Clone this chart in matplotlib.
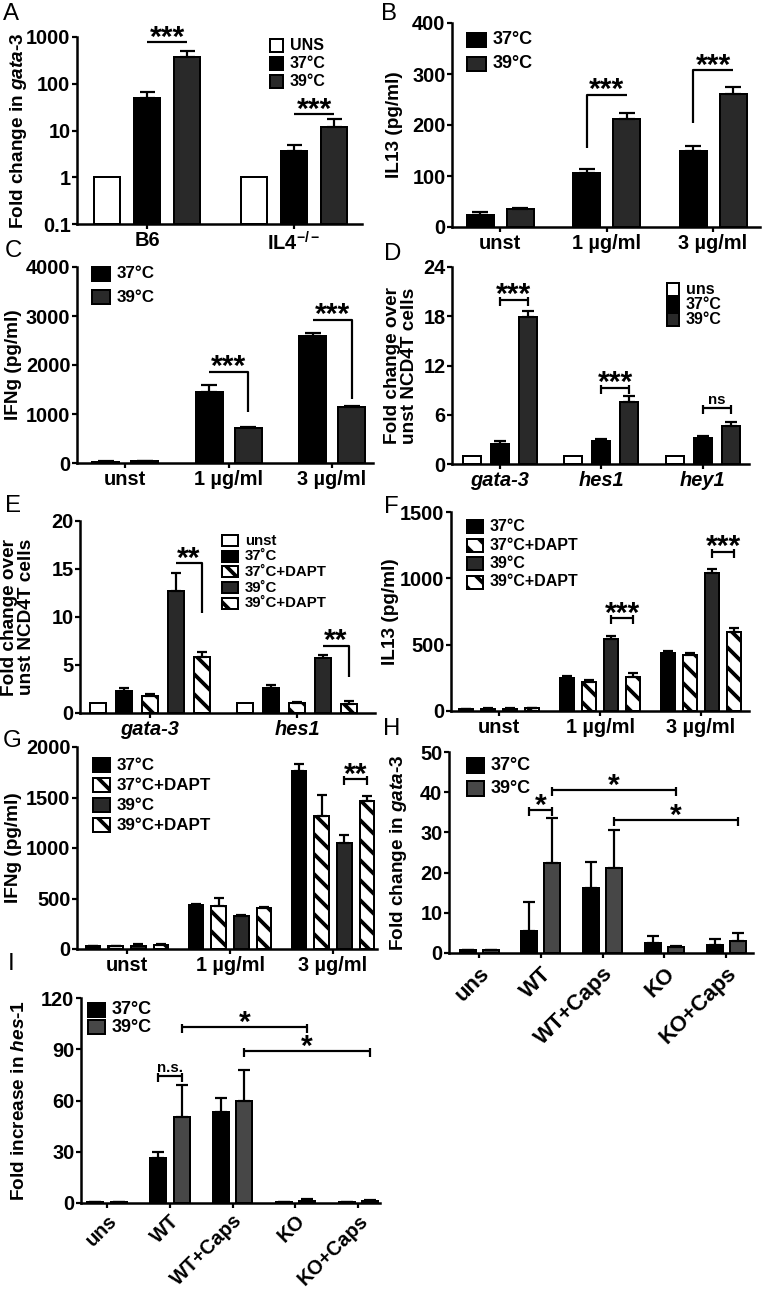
import numpy as np
import matplotlib as mpl
mpl.use('Agg')
import matplotlib.pyplot as plt
from matplotlib.patches import Rectangle
from matplotlib.ticker import NullLocator

# ---------------- data ----------------
# A: fold change in gata-3 (log scale)
a_groups = ['B6', 'IL4$^{-/-}$']
a_uns = [1.0, 1.0]
a_37 = [50.0, 3.7]
a_37_err = [18.0, 1.3]
a_39 = [370.0, 12.0]
a_39_err = [130.0, 6.0]

# B: IL13 (pg/ml)
doses = ['unst', '1 µg/ml', '3 µg/ml']
b_37 = [24, 106, 150]
b_37_err = [5, 8, 9]
b_39 = [35, 212, 261]
b_39_err = [3, 12, 14]

# C: IFNg (pg/ml)
c_37 = [30, 1450, 2600]
c_37_err = [10, 150, 60]
c_39 = [40, 720, 1140]
c_39_err = [10, 20, 20]

# D: fold change over unst NCD4T cells
d_genes = ['gata-3', 'hes1', 'hey1']
d_uns = [1.0, 1.0, 1.0]
d_37 = [2.4, 2.8, 3.2]
d_37_err = [0.4, 0.25, 0.25]
d_39 = [17.9, 7.6, 4.6]
d_39_err = [0.7, 0.7, 0.5]

# E: fold change over unst NCD4T cells, +/- DAPT
e_genes = ['gata-3', 'hes1']
e_uns = [1.0, 1.0]
e_37 = [2.3, 2.6]
e_37_err = [0.3, 0.3]
e_37d = [1.75, 1.0]
e_37d_err = [0.25, 0.1]
e_39 = [12.7, 5.7]
e_39_err = [1.9, 0.3]
e_39d = [5.8, 0.9]
e_39d_err = [0.6, 0.3]

# F: IL13 (pg/ml), +/- DAPT
f_37 = [12, 250, 437]
f_37_err = [4, 15, 15]
f_37d = [18, 218, 422]
f_37d_err = [4, 15, 15]
f_39 = [18, 542, 1040]
f_39_err = [4, 23, 30]
f_39d = [20, 256, 595]
f_39d_err = [5, 30, 31]

# G: IFNg (pg/ml), +/- DAPT
g_37 = [28, 436, 1762]
g_37_err = [5, 8, 70]
g_37d = [28, 426, 1317]
g_37d_err = [5, 80, 208]
g_39 = [30, 327, 1050]
g_39_err = [15, 12, 78]
g_39d = [35, 406, 1465]
g_39d_err = [12, 12, 50]

# H: fold change in gata-3
hi_groups = ['uns', 'WT', 'WT+Caps', 'KO', 'KO+Caps']
h_37 = [0.8, 5.5, 16.1, 2.5, 2.0]
h_37_err = [0.0, 7.2, 6.6, 1.8, 1.4]
h_39 = [0.8, 22.3, 21.1, 1.4, 3.1]
h_39_err = [0.0, 11.2, 9.4, 0.3, 1.8]

# I: fold increase in hes-1
i_37 = [0.5, 26.3, 53.3, 0.5, 0.5]
i_37_err = [0.0, 3.7, 8.2, 0.3, 0.3]
i_39 = [0.5, 50.5, 59.8, 1.0, 1.2]
i_39_err = [0.0, 18.5, 18.2, 1.5, 0.8]

# significance: ((group, series), (group, series), height, label, kind, leg end)
a_sig = [((0, 1), (0, 2), 780, '***', 'line', None),
         ((1, 1), (1, 2), 22, '***', 'line', None)]
b_sig = [((1, 0), (1, 1), 259, '***', 'left', 154),
         ((2, 0), (2, 1), 307, '***', 'left', 203)]
c_sig = [((1, 0), (1, 1), 1860, '***', 'right', 1040),
         ((2, 0), (2, 1), 2920, '***', 'right', 1300)]
d_sig = [((0, 1), (0, 2), 20.0, '***', 'cap', None),
         ((1, 1), (1, 2), 9.3, '***', 'cap', None),
         ((2, 1), (2, 2), 6.8, 'ns', 'cap', None)]
e_sig = [((0, 3), (0, 4), 15.6, '**', 'right', 10.4),
         ((1, 3), (1, 4), 7.0, '**', 'right', 3.75)]
f_sig = [((1, 2), (1, 3), 700, '***', 'cap', None),
         ((2, 2), (2, 3), 1200, '***', 'cap', None)]
g_sig = [((2, 2), (2, 3), 1683, '**', 'cap', None)]
h_sig = [((1, 0), (1, 1), 35.5, '*', 'cap', None),
         ((1, 1), (3, 1), 40.5, '*', 'cap', None),
         ((2, 1), (4, 1), 33.1, '*', 'cap', None)]
i_sig = [((1, 0), (1, 1), 74.4, 'n.s.', 'cap', None),
         ((1, 1), (3, 1), 103, '*', 'cap', None),
         ((2, 1), (4, 1), 89, '*', 'cap', None)]

# ---------------- style ----------------
FW, FH, DPI = 762, 1293, 120


def px(v):
    # pixels -> points
    return v * 72.0 / DPI


plt.rcParams['font.family'] = ['Liberation Sans', 'DejaVu Sans']
plt.rcParams['font.weight'] = 'bold'
plt.rcParams['axes.labelweight'] = 'bold'
plt.rcParams['mathtext.fontset'] = 'custom'
plt.rcParams['mathtext.rm'] = 'Liberation Sans:bold'
plt.rcParams['mathtext.bf'] = 'Liberation Sans:bold'
plt.rcParams['mathtext.it'] = 'Liberation Sans:italic:bold'
plt.rcParams['hatch.linewidth'] = px(3.8)
plt.rcParams['axes.linewidth'] = px(2.5)

DARK = '#292929'
MID = '#474747'
STYLES = {'uns': dict(facecolor='white'),
          '37': dict(facecolor='black'),
          '37d': dict(facecolor='white', hatch='\\\\'),
          '39': dict(facecolor=DARK),
          '39d': dict(facecolor='white', hatch='\\\\'),
          '39m': dict(facecolor=MID)}

fig = plt.figure(figsize=(FW / DPI, FH / DPI), dpi=DPI)


def bar_panel(lay, groups, series, ylim, yticks, ylabel, log=False,
              italic=False, rotate=False):
    L, T, R, B = lay['box']
    ax = fig.add_axes([L / FW, 1 - B / FH, (R - L) / FW, (B - T) / FH])
    step = lay['step']
    x0 = np.arange(len(groups))
    base = ylim[0] if log else 0
    xs = []
    for off, (vals, errs, key) in zip(lay['offsets'], series):
        x = x0 + off / step
        xs.append(x)
        vals = np.asarray(vals, float)
        ax.bar(x, vals - base, lay['width'] / step, bottom=base,
               edgecolor='black', linewidth=px(2), zorder=2, **STYLES[key])
        if errs is not None:
            ax.errorbar(x, vals, yerr=[np.zeros_like(vals), errs], fmt='none',
                        ecolor='black', elinewidth=px(2.2),
                        capsize=px(lay['cap']), capthick=px(2.2), zorder=3)
    if log:
        ax.set_yscale('log')
        ax.yaxis.set_minor_locator(NullLocator())
    ax.set_ylim(*ylim)
    ax.set_xlim((L - lay['c0']) / step, (R - lay['c0']) / step)
    ax.set_yticks(yticks)
    ax.set_yticklabels([('%g' % v) for v in yticks])
    ax.set_xticks(x0)
    ax.tick_params(direction='out', length=px(5), width=px(2.2),
                   labelsize=px(20), pad=px(1.5))
    if rotate:
        ax.set_xticklabels(groups, rotation=45, ha='right', va='top',
                           rotation_mode='anchor',
                           fontsize=px(lay.get('xrot_fs', 22)))
        ax.tick_params(axis='x', pad=px(lay.get('xrot_pad', 5)))
    else:
        ax.set_xticklabels(groups, fontstyle='italic' if italic else 'normal')
        ax.tick_params(axis='x', pad=px(2))
    for s in ('top', 'right'):
        ax.spines[s].set_visible(False)
    ax.set_ylabel(ylabel, fontsize=px(lay.get('ylab_fs', 19)),
                  linespacing=1.0)
    ax.yaxis.set_label_coords((lay['ylab_x'] - L) / (R - L), 0.5)
    ax.patch.set_visible(False)
    return ax, xs


def significance(ax, lay, ylim, xs, sigs):
    L, T, R, B = lay['box']
    dpp = (ylim[1] - ylim[0]) / (B - T)
    for (ga, sa), (gb, sb), y, label, kind, y2 in sigs:
        xa, xb = xs[sa][ga], xs[sb][gb]
        kw = dict(color='black', lw=px(2.2), solid_capstyle='butt', zorder=4)
        if kind == 'line':
            ax.plot([xa, xb], [y, y], **kw)
        elif kind == 'left':
            ax.plot([xa, xa, xb], [y2, y, y], **kw)
        elif kind == 'right':
            ax.plot([xa, xb, xb], [y, y, y2], **kw)
        else:
            ax.plot([xa, xb], [y, y], **kw)
            for xx in (xa, xb):
                ax.plot([xx, xx], [y - 6 * dpp, y + 3 * dpp], **kw)
        if '*' in label:
            ax.annotate(label, ((xa + xb) / 2, y), xytext=(0, px(-3.5)),
                        textcoords='offset points', ha='center',
                        va='baseline', fontsize=px(30))
        else:
            ax.annotate(label, ((xa + xb) / 2, y), xytext=(0, px(4)),
                        textcoords='offset points', ha='center',
                        va='baseline', fontsize=px(15))


def legend(entries, x, y, w, h, pitch, fs, gap=7):
    for i, (label, key) in enumerate(entries):
        top = y + i * pitch
        fig.patches.append(Rectangle((x / FW, 1 - (top + h) / FH), w / FW,
                                     h / FH, transform=fig.transFigure,
                                     edgecolor='black', linewidth=px(2),
                                     **STYLES[key]))
        fig.text((x + w + gap) / FW, 1 - (top + h / 2) / FH, label,
                 fontsize=px(fs), ha='left', va='center')


def letter(ch, x, y):
    fig.text(x / FW, 1 - y / FH, ch, fontsize=px(24), fontweight='normal',
             ha='left', va='baseline')


# ---------------- layout (pixels) ----------------
lay_a = dict(box=(77, 37, 362, 224), c0=147, step=147,
             offsets=(-40, 0, 40), width=26, cap=7.5, ylab_x=29)
lay_b = dict(box=(452, 23, 760, 227), c0=500, step=106.5,
             offsets=(-20, 20), width=27, cap=8, ylab_x=403)
lay_c = dict(box=(77, 267, 373, 463), c0=125, step=103.5,
             offsets=(-19.5, 19.5), width=27, cap=8, ylab_x=22)
lay_d = dict(box=(452, 267, 749, 464), c0=499.5, step=101.5,
             offsets=(-28, 0, 28), width=18, cap=6, ylab_x=418)
lay_e = dict(box=(80, 521, 375, 713), c0=150, step=147,
             offsets=(-52, -26, 0, 26, 52), width=16.5, cap=5, ylab_x=35)
lay_f = dict(box=(451, 512, 749, 711), c0=499, step=101,
             offsets=(-33, -11, 11, 33), width=14.5, cap=5, ylab_x=399)
lay_g = dict(box=(77, 747, 377, 949), c0=127, step=103,
             offsets=(-34, -11.3, 11.3, 34), width=14.5, cap=5, ylab_x=22)
lay_h = dict(box=(449, 752, 753, 953), c0=479, step=61.8,
             offsets=(-11.5, 11.5), width=16, cap=6, ylab_x=409)
lay_i = dict(box=(81, 998, 380, 1203), c0=107, step=62.8,
             offsets=(-11.7, 11.7), width=16, cap=6, ylab_x=28,
             xrot_fs=20, xrot_pad=3)

# ---------------- panels ----------------
ylim = (0.1, 1000)
ax, xs = bar_panel(lay_a, a_groups,
                   [(a_uns, None, 'uns'), (a_37, a_37_err, '37'),
                    (a_39, a_39_err, '39')],
                   ylim, [0.1, 1, 10, 100, 1000],
                   r'Fold change in $\mathit{gata}$-$\mathit{3}$', log=True)
significance(ax, lay_a, ylim, xs, a_sig)
legend([('UNS', 'uns'), ('37°C', '37'), ('39°C', '39')],
       270, 39, 13, 13, 18, 16)

ylim = (0, 400)
ax, xs = bar_panel(lay_b, doses,
                   [(b_37, b_37_err, '37'), (b_39, b_39_err, '39')],
                   ylim, [0, 100, 200, 300, 400], 'IL13 (pg/ml)')
significance(ax, lay_b, ylim, xs, b_sig)
legend([('37°C', '37'), ('39°C', '39')], 467, 33, 19, 14, 23.5, 18)

ylim = (0, 4000)
ax, xs = bar_panel(lay_c, doses,
                   [(c_37, c_37_err, '37'), (c_39, c_39_err, '39')],
                   ylim, [0, 1000, 2000, 3000, 4000], 'IFNg (pg/ml)')
significance(ax, lay_c, ylim, xs, c_sig)
legend([('37°C', '37'), ('39°C', '39')], 92, 267, 18, 14, 23, 17)

ylim = (0, 24)
ax, xs = bar_panel(lay_d, d_genes,
                   [(d_uns, None, 'uns'), (d_37, d_37_err, '37'),
                    (d_39, d_39_err, '39')],
                   ylim, [0, 6, 12, 18, 24],
                   'Fold change over\nunst NCD4T cells', italic=True)
significance(ax, lay_d, ylim, xs, d_sig)
legend([('uns', 'uns'), ('37°C', '37'), ('39°C', '39')],
       667, 283, 12, 13, 15, 16)

ylim = (0, 20)
ax, xs = bar_panel(lay_e, e_genes,
                   [(e_uns, None, 'uns'), (e_37, e_37_err, '37'),
                    (e_37d, e_37d_err, '37d'), (e_39, e_39_err, '39'),
                    (e_39d, e_39d_err, '39d')],
                   ylim, [0, 5, 10, 15, 20],
                   'Fold change over\nunst NCD4T cells', italic=True)
significance(ax, lay_e, ylim, xs, e_sig)
legend([('unst', 'uns'), ('37˚C', '37'), ('37˚C+DAPT', '37d'),
        ('39˚C', '39'), ('39˚C+DAPT', '39d')],
       222, 535, 16, 11, 15.7, 15)

ylim = (0, 1500)
ax, xs = bar_panel(lay_f, doses,
                   [(f_37, f_37_err, '37'), (f_37d, f_37d_err, '37d'),
                    (f_39, f_39_err, '39'), (f_39d, f_39d_err, '39d')],
                   ylim, [0, 500, 1000, 1500], 'IL13 (pg/ml)')
significance(ax, lay_f, ylim, xs, f_sig)
legend([('37°C', '37'), ('37°C+DAPT', '37d'), ('39°C', '39'),
        ('39°C+DAPT', '39d')], 467, 520, 16, 13, 18.5, 16)

ylim = (0, 2000)
ax, xs = bar_panel(lay_g, doses,
                   [(g_37, g_37_err, '37'), (g_37d, g_37d_err, '37d'),
                    (g_39, g_39_err, '39'), (g_39d, g_39d_err, '39d')],
                   ylim, [0, 500, 1000, 1500, 2000], 'IFNg (pg/ml)')
significance(ax, lay_g, ylim, xs, g_sig)
legend([('37°C', '37'), ('37°C+DAPT', '37d'), ('39°C', '39'),
        ('39°C+DAPT', '39d')], 93, 758, 17, 14, 20, 17)

ylim = (0, 50)
ax, xs = bar_panel(lay_h, hi_groups,
                   [(h_37, h_37_err, '37'), (h_39, h_39_err, '39m')],
                   ylim, [0, 10, 20, 30, 40, 50],
                   r'Fold change in $\mathit{gata}$-$\mathit{3}$', rotate=True)
significance(ax, lay_h, ylim, xs, h_sig)
legend([('37°C', '37'), ('39°C', '39m')], 467, 758, 17, 15, 23, 18)

ylim = (0, 120)
ax, xs = bar_panel(lay_i, hi_groups,
                   [(i_37, i_37_err, '37'), (i_39, i_39_err, '39m')],
                   ylim, [0, 30, 60, 90, 120],
                   r'Fold increase in $\mathit{hes}$-$\mathit{1}$', rotate=True)
significance(ax, lay_i, ylim, xs, i_sig)
legend([('37°C', '37'), ('39°C', '39m')], 88, 1003, 17, 14, 17, 18)

for ch, x, y in [('A', 3, 20), ('B', 381, 20), ('C', 5, 257),
                 ('D', 384, 260), ('E', 5, 512), ('F', 384, 513),
                 ('G', 3, 747), ('H', 383, 735), ('I', 8, 970)]:
    letter(ch, x, y)

fig.savefig('out.png', dpi=DPI)
